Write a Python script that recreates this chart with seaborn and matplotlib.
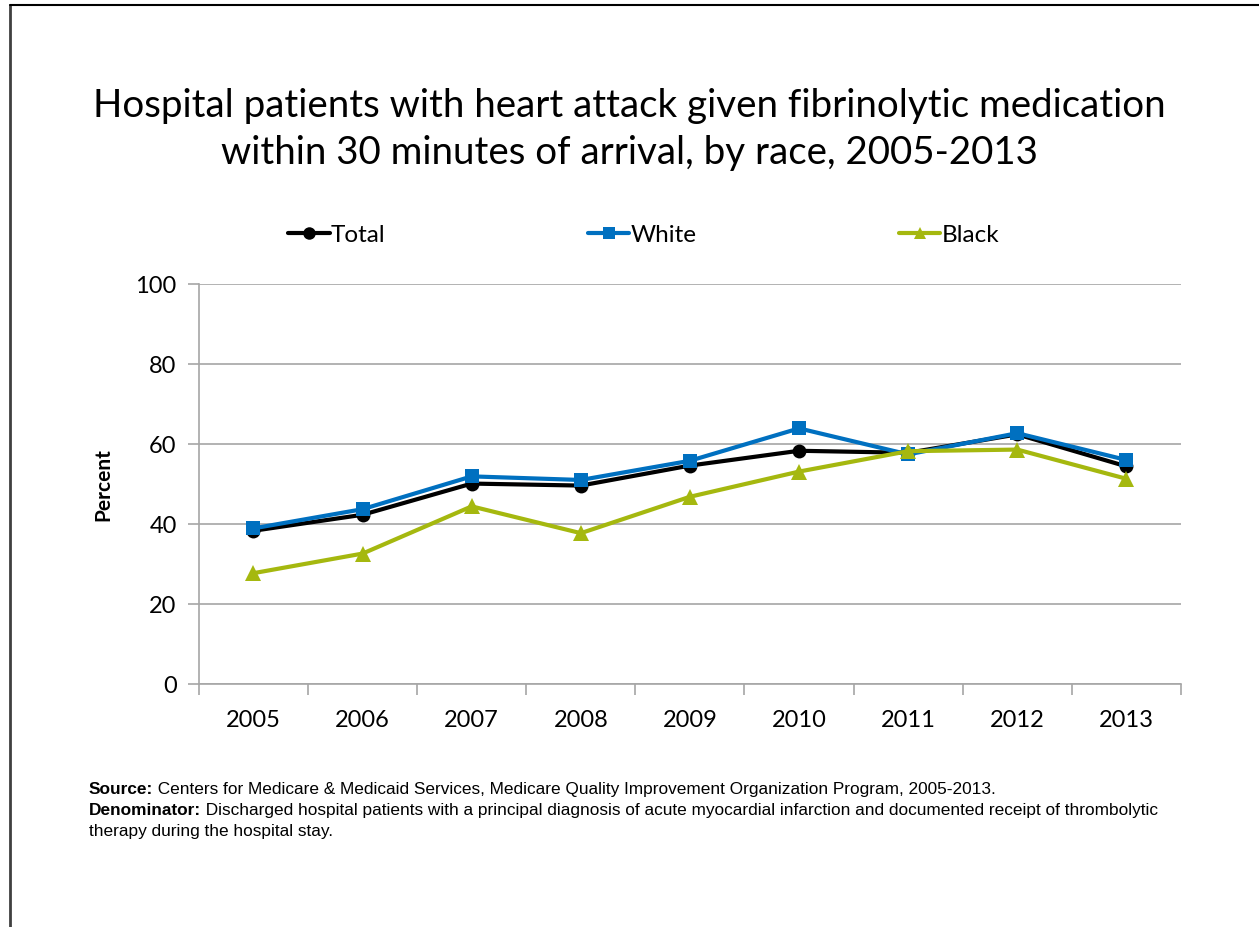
import numpy as np
import pandas as pd
import matplotlib
matplotlib.use("Agg")
import matplotlib.pyplot as plt
import seaborn as sns
from matplotlib.lines import Line2D

years = ["2005", "2006", "2007", "2008", "2009", "2010", "2011", "2012", "2013"]
total = [38.3, 42.3, 50.1, 49.6, 54.6, 58.3, 57.8, 62.4, 54.4]
white = [38.9, 43.7, 51.9, 51.0, 55.8, 63.9, 57.4, 62.7, 56.0]
black = [27.7, 32.6, 44.4, 37.7, 46.8, 53.1, 58.2, 58.6, 51.3]

series = ["Total", "White", "Black"]
colors = {"Total": "#000000", "White": "#0070C0", "Black": "#A5B80F"}
markers = {"Total": "o", "White": "s", "Black": "^"}

df = pd.DataFrame({"Year": years * 3,
                   "Percent": total + white + black,
                   "Race": ["Total"] * 9 + ["White"] * 9 + ["Black"] * 9})
df["x"] = df["Year"].map({y: i for i, y in enumerate(years)})

sns.set_theme(style="white")
plt.rcParams['font.family'] = ['Lato', 'DejaVu Sans']
plt.rcParams['text.color'] = 'black'
plt.rcParams['xtick.color'] = 'black'
plt.rcParams['ytick.color'] = 'black'
plt.rcParams['axes.labelcolor'] = 'black'

fig = plt.figure(figsize=(12.59, 9.28), dpi=100)
ax = fig.add_axes([0.158, 0.2619, 0.78, 0.431])

for name in series:
    sub = df[df["Race"] == name]
    sns.lineplot(data=sub, x="x", y="Percent", ax=ax, color=colors[name],
                 marker=markers[name], markersize=10 if name != "Black" else 11,
                 markeredgewidth=0, linewidth=3, label=name, legend=False)

ax.set_xlim(-0.5, 8.5)
ax.set_ylim(0, 100)
ax.set_yticks(range(0, 101, 20))
ax.set_xticks(np.arange(-0.5, 9, 1))
ax.set_xticklabels([])
ax.set_xticks(range(9), minor=True)
ax.set_xticklabels(years, minor=True, fontsize=17)
ax.tick_params(axis="x", which="minor", length=0, pad=18)
ax.tick_params(axis="x", which="major", length=8, width=1.2, color="#A6A6A6", direction="out", bottom=True)
ax.tick_params(axis="y", length=8, width=1.2, color="#A6A6A6", direction="out", left=True, labelsize=17, pad=8)
ax.yaxis.grid(True, color="#A6A6A6", linewidth=1.2)
ax.set_axisbelow(True)
for s in ["top", "right"]:
    ax.spines[s].set_visible(False)
for s in ["left", "bottom"]:
    ax.spines[s].set_color("#A6A6A6")
    ax.spines[s].set_linewidth(1.2)
ax.set_xlabel("")
ax.set_ylabel("Percent", fontsize=15, fontweight="bold", labelpad=16)

fig.text(0.5, 0.886, "Hospital patients with heart attack given fibrinolytic medication",
         ha="center", va="center", fontsize=27.7)
fig.text(0.5, 0.835, "within 30 minutes of arrival, by race, 2005-2013",
         ha="center", va="center", fontsize=27.7)

handles = [Line2D([0], [0], color=colors[n], marker=markers[n], markersize=9,
                  markeredgewidth=0, linewidth=3) for n in series]
for h, n, xpos in zip(handles, series, [0.229, 0.467, 0.714]):
    leg = fig.legend([h], [n], loc="center left", bbox_to_anchor=(xpos, 0.746),
                     frameon=False, fontsize=17.5, handlelength=1.7, handletextpad=0.05,
                     borderaxespad=0, borderpad=0)

foot = ["Liberation Sans", "DejaVu Sans"]
fig.canvas.draw()
renderer = fig.canvas.get_renderer()
notes = [("Source:", " Centers for Medicare & Medicaid Services, Medicare Quality Improvement Organization Program, 2005-2013.", 0.149),
         ("Denominator:", " Discharged hospital patients with a principal diagnosis of acute myocardial infarction and documented receipt of thrombolytic", 0.1265),
         ("", "therapy during the hospital stay.", 0.104)]
for head, rest, yy in notes:
    x0 = 0.0707
    if head:
        t = fig.text(x0, yy, head, fontsize=12.4, family=foot, fontweight="bold", va="center")
        bb = t.get_window_extent(renderer=renderer)
        x0 = bb.x1 / fig.bbox.width
    fig.text(x0, yy, rest, fontsize=12.4, family=foot, va="center")

fig.add_artist(Line2D([0.008, 0.008], [0, 0.993], color="#404040", linewidth=2, transform=fig.transFigure))
fig.add_artist(Line2D([0.008, 1], [0.993, 0.993], color="#000000", linewidth=1.5, transform=fig.transFigure))

fig.savefig("out.png", dpi=100)
